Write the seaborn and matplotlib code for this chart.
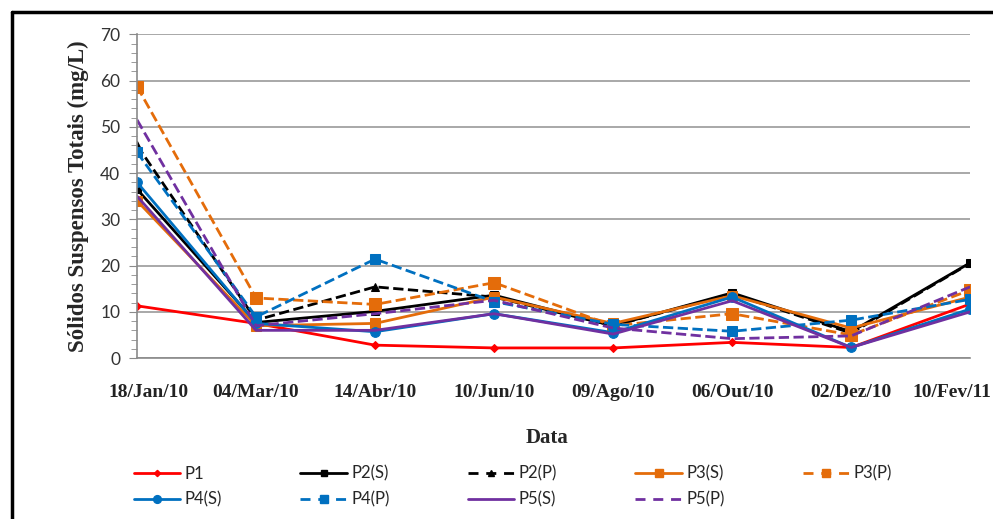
import numpy as np
import pandas as pd
import matplotlib
matplotlib.use('Agg')
import matplotlib.pyplot as plt
import matplotlib.transforms as mtransforms
from matplotlib.lines import Line2D
from matplotlib.ticker import MultipleLocator
import seaborn as sns

datas = ['18/Jan/10', '04/Mar/10', '14/Abr/10', '10/Jun/10',
         '09/Ago/10', '06/Out/10', '02/Dez/10', '10/Fev/11']

p1 = [11.3, 7.5, 2.8, 2.2, 2.2, 3.4, 2.3, 11.7]
p2_s = [36.5, 7.7, 10.1, 13.6, 7.0, 14.1, 5.7, 20.6]
p2_p = [46.0, 8.2, 15.4, 13.2, 7.0, 13.9, 5.4, 20.5]
p3_s = [34.0, 7.0, 7.5, 13.2, 7.5, 13.5, 6.5, 13.2]
p3_p = [58.7, 13.0, 11.6, 16.3, 7.0, 9.6, 5.0, 14.7]
p4_s = [38.0, 7.5, 5.7, 9.6, 5.5, 13.2, 2.3, 10.6]
p4_p = [44.5, 8.9, 21.4, 12.2, 7.3, 5.8, 8.2, 12.7]
p5_s = [35.0, 6.0, 6.0, 9.6, 5.2, 12.4, 2.3, 10.0]
p5_p = [51.5, 7.0, 9.6, 12.5, 6.5, 4.2, 4.8, 15.4]

# nome, valores, cor, estilo, marcador, tamanho
series = [
    ('P1', p1, '#FF0000', '-', 'D', 4),
    ('P2(S)', p2_s, '#000000', '-', 's', 6),
    ('P2(P)', p2_p, '#000000', '--', '^', 6),
    ('P3(S)', p3_s, '#E46C0A', '-', 's', 7),
    ('P3(P)', p3_p, '#E46C0A', '--', 's', 8),
    ('P4(S)', p4_s, '#0070C0', '-', 'o', 7),
    ('P4(P)', p4_p, '#0070C0', '--', 's', 7),
    ('P5(S)', p5_s, '#7030A0', '-', None, 0),
    ('P5(P)', p5_p, '#7030A0', '--', None, 0),
]

sns.set_style('white')
plt.rcParams['font.family'] = ['Lato', 'DejaVu Sans']

fig = plt.figure(figsize=(9.93, 5.19), dpi=100)
ax = fig.add_axes([0.138, 0.310, 0.839, 0.624])

x = np.arange(len(datas))
handles = {}
for nome, vals, cor, ls, mk, ms in series:
    df = pd.DataFrame({'x': x, 'y': vals})
    sns.lineplot(data=df, x='x', y='y', ax=ax, color=cor, linestyle=ls,
                 marker=mk if mk else '', markersize=ms, markeredgecolor=cor,
                 linewidth=2, dashes=False if ls == '-' else (3, 2.2))
    handles[nome] = Line2D([], [], color=cor, linestyle=ls, linewidth=2,
                           marker=mk if mk else '', markersize=ms * 0.8,
                           markeredgecolor=cor,
                           dashes=(3.6, 2.8) if ls == '--' else (None, None))

ax.set_xlim(0, 7)
ax.set_ylim(0, 70)
ax.yaxis.set_major_locator(MultipleLocator(10))
ax.yaxis.set_minor_locator(MultipleLocator(2))
ax.set_xticks(x)
ax.set_xticklabels([])

# rotulos das datas; os das pontas puxados para dentro, como no Excel
deslocs = [11, 0, 0, 0, 0, 0, 0, -18]
base = ax.get_xaxis_transform()
for i, (rot, dx) in enumerate(zip(datas, deslocs)):
    tr = base + mtransforms.ScaledTranslation(dx / 100, -26 / 100, fig.dpi_scale_trans)
    ax.text(x[i], 0, rot, transform=tr, ha='center', va='top',
            fontfamily='Liberation Serif', fontweight='bold', fontsize=14,
            color='#222222')

for lb in ax.get_yticklabels():
    lb.set_fontsize(12.5)
    lb.set_color('#333333')
ax.grid(axis='y', which='major', color='#9a9a9a', linewidth=1.2)
for s in ['top', 'right']:
    ax.spines[s].set_visible(False)
for s in ['left', 'bottom']:
    ax.spines[s].set_color('#8a8a8a')
    ax.spines[s].set_linewidth(1.2)
ax.tick_params(axis='x', which='major', direction='out', length=8, color='#8a8a8a', pad=11)
ax.tick_params(axis='y', which='both', direction='out', left=True, color='#8a8a8a')
ax.tick_params(axis='y', which='major', length=6, pad=6)
ax.tick_params(axis='y', which='minor', length=4)

ax.set_xlabel('')
fig.text(547 / 993, 1 - 438 / 519, 'Data', ha='center', va='center',
         fontfamily='Liberation Serif', fontweight='bold', fontsize=15)
ax.set_ylabel('Sólidos Suspensos Totais (mg/L)', fontfamily='Liberation Serif',
              fontweight='bold', fontsize=16.5, labelpad=8)

ordem = ['P1', 'P4(S)', 'P2(S)', 'P4(P)', 'P2(P)', 'P5(S)', 'P3(S)', 'P5(P)', 'P3(P)']
ax.legend([handles[n] for n in ordem], ordem, ncol=5, frameon=False,
          loc='upper left', bbox_to_anchor=(-0.022, -0.285), fontsize=12,
          handlelength=2.8, columnspacing=4.7, handletextpad=0.25,
          labelspacing=0.6)

# moldura
fig.add_artist(Line2D([12 / 993, 12 / 993], [0, 1 - 12 / 519], color='black',
                      linewidth=2.5, transform=fig.transFigure))
fig.add_artist(Line2D([12 / 993, 1], [1 - 12 / 519, 1 - 12 / 519], color='black',
                      linewidth=2.5, transform=fig.transFigure))

fig.savefig('out.png', dpi=100)
